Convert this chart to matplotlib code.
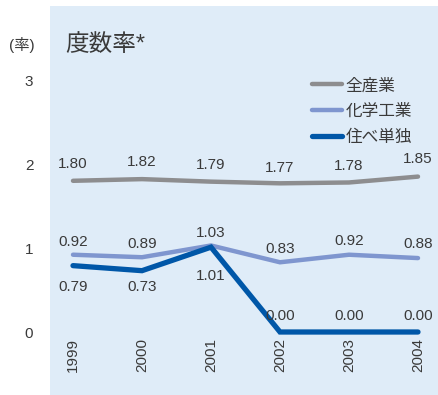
import matplotlib
matplotlib.use('Agg')
import matplotlib.pyplot as plt
import numpy as np

plt.rcParams['font.family'] = ['Liberation Sans', 'Noto Sans CJK JP', 'DejaVu Sans']

# データ
years = [1999, 2000, 2001, 2002, 2003, 2004]
zen_sangyo = [1.80, 1.82, 1.79, 1.77, 1.78, 1.85]
kagaku = [0.92, 0.89, 1.03, 0.83, 0.92, 0.88]
sumibe = [0.79, 0.73, 1.01, 0.00, 0.00, 0.00]
series_names = ['全産業', '化学工業', '住べ単独']
y_ticks = [0, 1, 2, 3]

# ラベルの縦オフセット (pixels)
off_zen = [17, 17, 17, 15, 16, 18]
off_kagaku = [13, 13, 12, 13, 14, 14]
off_sumibe = [-21, -16, -29, 16, 16, 16]

txt = '#3a3a3a'

fig = plt.figure(figsize=(4.38, 3.95), dpi=100)
ax = fig.add_axes([50 / 438, 0, 388 / 438, 389 / 395])
ax.set_facecolor('#dfecf8')

colors = ['#8d8d8f', '#7f96cf', '#0057a8']
widths = [3.2, 3.2, 3.8]
for vals, name, c, w in zip([zen_sangyo, kagaku, sumibe], series_names, colors, widths):
    ax.plot(years, vals, color=c, linewidth=w, label=name,
            solid_capstyle='round', solid_joinstyle='miter')

# 値ラベル
for vals, offs in [(zen_sangyo, off_zen), (kagaku, off_kagaku), (sumibe, off_sumibe)]:
    for x, v, o in zip(years, vals, offs):
        ax.annotate(f'{v:.2f}', (x, v), textcoords='offset pixels', xytext=(0, o),
                    ha='center', va='center', fontsize=11, color=txt)

# 年ラベル (縦書き)
for x in years:
    ax.text(x, -0.07, str(x), rotation=90, ha='center', va='top',
            fontsize=11, color=txt)

ax.set_xlim(1999 - 23 / 69, 1999 + 365 / 69)
ax.set_ylim(-63 / 84, 326 / 84)
ax.set_xticks([])
ax.set_yticks(y_ticks)
ax.set_yticklabels([str(t) for t in y_ticks], fontsize=11, color=txt)
ax.tick_params(axis='y', length=0, pad=12)
for s in ax.spines.values():
    s.set_visible(False)

fig.text(65 / 438, 1 - 45 / 395, '度数率*', fontsize=17, color=txt,
         va='center', ha='left')
fig.text(9 / 438, 1 - 45 / 395, '(率)', fontsize=11, color=txt,
         va='center', ha='left')

leg = ax.legend(loc='upper left', bbox_to_anchor=((312 - 50) / 388, (395 - 78) / 389),
                frameon=False, fontsize=12, handlelength=1.8, handletextpad=0.2,
                labelspacing=0.62, borderpad=0, borderaxespad=0)
for t in leg.get_texts():
    t.set_color(txt)

fig.savefig('out.png', dpi=100)
